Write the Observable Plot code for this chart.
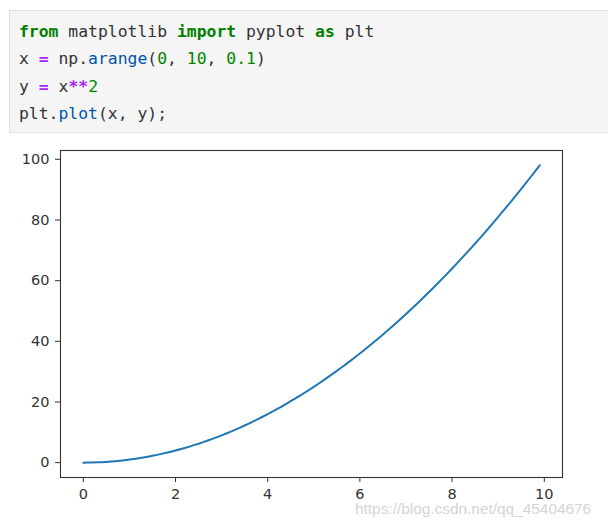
<!DOCTYPE html>
<html>
<head>
<meta charset="utf-8">
<script src="https://cdn.jsdelivr.net/npm/d3@7"></script>
<script src="https://cdn.jsdelivr.net/npm/@observablehq/plot@0.6"></script>
<style>
  html, body { margin: 0; padding: 0; background: #fff; width: 608px; height: 526px; overflow: hidden; }
  #code {
    position: absolute; left: 9px; top: 10px; width: 620px; height: 123px;
    background: #f5f5f5; border: 1px solid #e0e0e0; box-sizing: border-box;
    padding: 7px 0 0 9px;
    font-family: "DejaVu Sans Mono", "Liberation Mono", monospace;
    font-size: 16.4px; color: #333; white-space: pre;
  }
  #code div { height: 27.4px; line-height: 27.4px; }
  .kw { color: #008000; font-weight: bold; }
  .fn { color: #0055aa; }
  .nm { color: #008800; }
  .op { color: #aa22ff; font-weight: bold; }
  #chart { position: absolute; left: 0; top: 140px; }
  #wm {
    position: absolute; left: 355px; top: 500px;
    font-family: "Liberation Sans", Arial, sans-serif; font-size: 15.4px;
    color: #d4d4d4; white-space: nowrap;
  }
</style>
</head>
<body>
<div id="code"><div><span class="kw">from</span> matplotlib <span class="kw">import</span> pyplot <span class="kw">as</span> plt</div><div>x <span class="op">=</span> np.<span class="fn">arange</span>(<span class="nm">0</span>, <span class="nm">10</span>, <span class="nm">0.1</span>)</div><div>y <span class="op">=</span> x<span class="op">**</span><span class="nm">2</span></div><div>plt.<span class="fn">plot</span>(x, y);</div></div>
<div id="chart"></div>
<div id="wm">https://blog.csdn.net/qq_45404676</div>
<script>
const xValues = [0, 0.1, 0.2, 0.3, 0.4, 0.5, 0.6, 0.7, 0.8, 0.9,
  1, 1.1, 1.2, 1.3, 1.4, 1.5, 1.6, 1.7, 1.8, 1.9,
  2, 2.1, 2.2, 2.3, 2.4, 2.5, 2.6, 2.7, 2.8, 2.9,
  3, 3.1, 3.2, 3.3, 3.4, 3.5, 3.6, 3.7, 3.8, 3.9,
  4, 4.1, 4.2, 4.3, 4.4, 4.5, 4.6, 4.7, 4.8, 4.9,
  5, 5.1, 5.2, 5.3, 5.4, 5.5, 5.6, 5.7, 5.8, 5.9,
  6, 6.1, 6.2, 6.3, 6.4, 6.5, 6.6, 6.7, 6.8, 6.9,
  7, 7.1, 7.2, 7.3, 7.4, 7.5, 7.6, 7.7, 7.8, 7.9,
  8, 8.1, 8.2, 8.3, 8.4, 8.5, 8.6, 8.7, 8.8, 8.9,
  9, 9.1, 9.2, 9.3, 9.4, 9.5, 9.6, 9.7, 9.8, 9.9];
const yValues = [0, 0.01, 0.04, 0.09, 0.16, 0.25, 0.36, 0.49, 0.64, 0.81,
  1, 1.21, 1.44, 1.69, 1.96, 2.25, 2.56, 2.89, 3.24, 3.61,
  4, 4.41, 4.84, 5.29, 5.76, 6.25, 6.76, 7.29, 7.84, 8.41,
  9, 9.61, 10.24, 10.89, 11.56, 12.25, 12.96, 13.69, 14.44, 15.21,
  16, 16.81, 17.64, 18.49, 19.36, 20.25, 21.16, 22.09, 23.04, 24.01,
  25, 26.01, 27.04, 28.09, 29.16, 30.25, 31.36, 32.49, 33.64, 34.81,
  36, 37.21, 38.44, 39.69, 40.96, 42.25, 43.56, 44.89, 46.24, 47.61,
  49, 50.41, 51.84, 53.29, 54.76, 56.25, 57.76, 59.29, 60.84, 62.41,
  64, 65.61, 67.24, 68.89, 70.56, 72.25, 73.96, 75.69, 77.44, 79.21,
  81, 82.81, 84.64, 86.49, 88.36, 90.25, 92.16, 94.09, 96.04, 98.01];
const xTicks = [0, 2, 4, 6, 8, 10];
const yTicks = [0, 20, 40, 60, 80, 100];

const data = xValues.map((x, i) => ({x, y: yValues[i]}));

const chart = Plot.plot({
  width: 608,
  height: 386,
  marginLeft: 60,
  marginRight: 46,
  marginTop: 10,
  marginBottom: 49,
  style: { fontFamily: "DejaVu Sans", fontSize: "14.5px", color: "#333", background: "transparent", overflow: "visible" },
  x: { domain: [-0.495, 10.395] },
  y: { domain: [-4.9005, 102.9105] },
  marks: [
    Plot.line(data, { x: "x", y: "y", stroke: "#1f77b4", strokeWidth: 2 }),
    Plot.frame({ stroke: "#333", strokeWidth: 1.1 }),
    Plot.axisX({ ticks: xTicks, tickSize: 5, tickPadding: 6, label: null, stroke: "#333", fill: "#333" }),
    Plot.axisY({ ticks: yTicks, tickSize: 5, tickPadding: 6, label: null, stroke: "#333", fill: "#333" })
  ]
});
document.getElementById("chart").appendChild(chart);
</script>
</body>
</html>
